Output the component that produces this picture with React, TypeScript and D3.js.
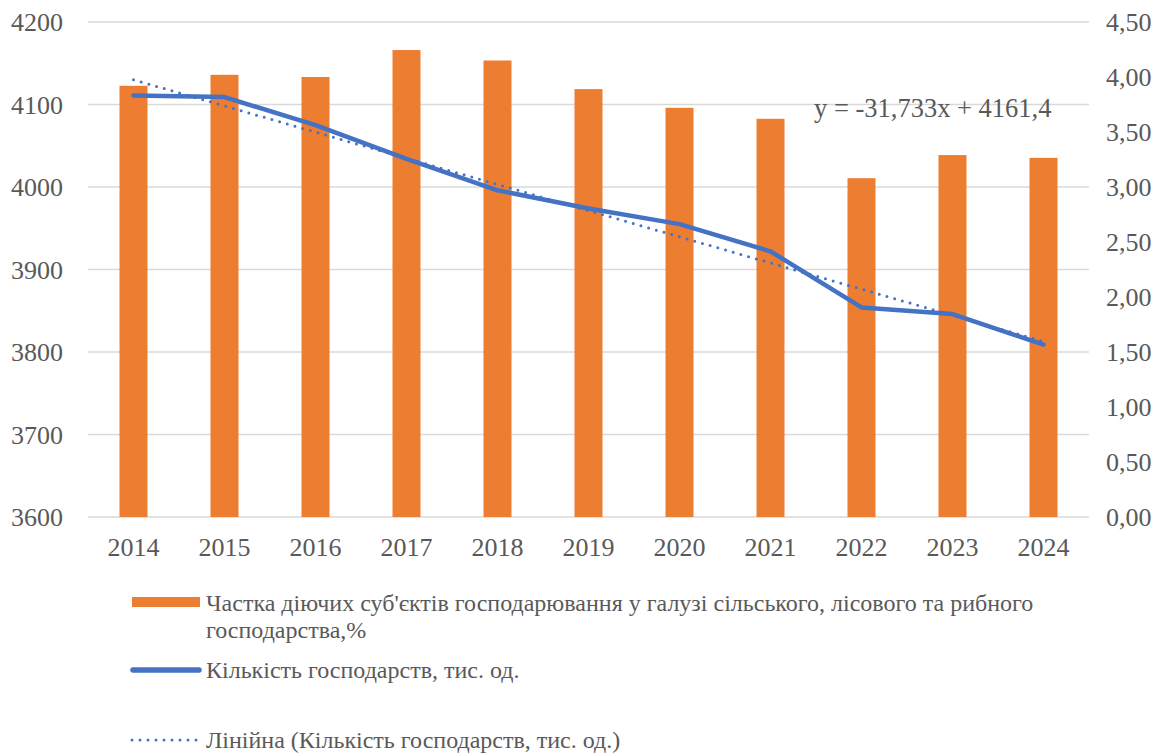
import React from "react";
import * as d3 from "d3";

const years = ["2014","2015","2016","2017","2018","2019","2020","2021","2022","2023","2024"];
const shareValues = [3.92, 4.02, 4.0, 4.245, 4.15, 3.89, 3.72, 3.62, 3.08, 3.29, 3.265];
const farmsValues = [4111, 4109, 4075, 4034, 3996, 3974, 3955, 3922, 3854, 3846, 3809];
const leftTicks = [3600, 3700, 3800, 3900, 4000, 4100, 4200];
const rightTicks = [0, 0.5, 1, 1.5, 2, 2.5, 3, 3.5, 4, 4.5];
const barLabel = ["Частка діючих суб'єктів господарювання у галузі сільського, лісового та рибного", "господарства,%"];
const lineLabel = "Кількість господарств, тис. од.";
const trendLabel = "Лінійна (Кількість господарств, тис. од.)";
const equationText = "y = -31,733x + 4161,4";

const W = 1162, H = 754;
const L = 88, R = 1089, T = 22, B = 517;
const FONT = "Liberation Serif, Tinos, Times New Roman, DejaVu Serif, serif";
const TXT = "#595959";
const ORANGE = "#ED7D31";
const BLUE = "#4472C4";

export default function App() {
  const x = d3.scaleBand<string>().domain(years).range([L, R]).padding(0);
  const yL = d3.scaleLinear().domain([3600, 4200]).range([B, T]);
  const yR = d3.scaleLinear().domain([0, 4.5]).range([B, T]);
  const bw = x.step() / 3.25;
  const cx = (y: string) => (x(y) as number) + x.bandwidth() / 2;

  const n = farmsValues.length;
  const xs = farmsValues.map((_, i) => i + 1);
  const mx = d3.mean(xs) as number;
  const my = d3.mean(farmsValues) as number;
  const slope = d3.sum(xs.map((v, i) => (v - mx) * (farmsValues[i] - my))) / d3.sum(xs.map(v => (v - mx) ** 2));
  const icpt = my - slope * mx;
  const trendPts: [number, number][] = [[cx(years[0]), yL(icpt + slope * 1)], [cx(years[n - 1]), yL(icpt + slope * n)]];

  const line = d3.line<number>().x((_, i) => cx(years[i])).y(d => yL(d));
  const ts = { fontFamily: FONT };

  return (
    <svg width={W} height={H} style={{ position: "absolute", left: 0, top: 0, background: "#fff", fontFamily: FONT }}>
      <rect width={W} height={H} fill="#fff" />
      {leftTicks.map(t => (
        <line key={"g" + t} x1={L} x2={R} y1={yL(t)} y2={yL(t)} stroke="#D9D9D9" strokeWidth={1.5} />
      ))}
      {leftTicks.map(t => (
        <text key={"l" + t} style={ts} x={63} y={yL(t)} dy="0.35em" textAnchor="end" fontSize={26} fill={TXT}>{t}</text>
      ))}
      {rightTicks.map(t => (
        <text key={"r" + t} style={ts} x={1106} y={yR(t)} dy="0.35em" textAnchor="start" fontSize={26} fill={TXT}>{d3.format(".2f")(t).replace(".", ",")}</text>
      ))}
      {years.map(y => (
        <text key={"x" + y} style={ts} x={cx(y)} y={547} dy="0.35em" textAnchor="middle" fontSize={26} fill={TXT}>{y}</text>
      ))}
      {shareValues.map((v, i) => (
        <rect key={"b" + i} x={cx(years[i]) - bw / 2} y={yR(v)} width={bw} height={yR(0) - yR(v)} fill={ORANGE} />
      ))}
      <path d={line(farmsValues) as string} fill="none" stroke={BLUE} strokeWidth={4.5} strokeLinejoin="round" strokeLinecap="round" />
      <line x1={trendPts[0][0]} y1={trendPts[0][1]} x2={trendPts[1][0]} y2={trendPts[1][1]} stroke={BLUE} strokeWidth={3} strokeDasharray="0 8" strokeLinecap="round" />
      <text style={ts} x={814} y={117} fontSize={26.5} fill={TXT}>{equationText}</text>

      <rect x={132} y={597} width={68} height={10} fill={ORANGE} />
      <text style={ts} x={206} y={603} dy="0.35em" fontSize={24} fill={TXT}>{barLabel[0]}</text>
      <text style={ts} x={206} y={630} dy="0.35em" fontSize={24} fill={TXT}>{barLabel[1]}</text>

      <line x1={133} x2={199} y1={670} y2={670} stroke={BLUE} strokeWidth={5.5} strokeLinecap="round" />
      <text style={ts} x={206} y={670} dy="0.35em" fontSize={24} fill={TXT}>{lineLabel}</text>

      <line x1={132} x2={200} y1={740} y2={740} stroke={BLUE} strokeWidth={3} strokeDasharray="0 8" strokeLinecap="round" />
      <text style={ts} x={206} y={740} dy="0.35em" fontSize={24} fill={TXT}>{trendLabel}</text>
    </svg>
  );
}
